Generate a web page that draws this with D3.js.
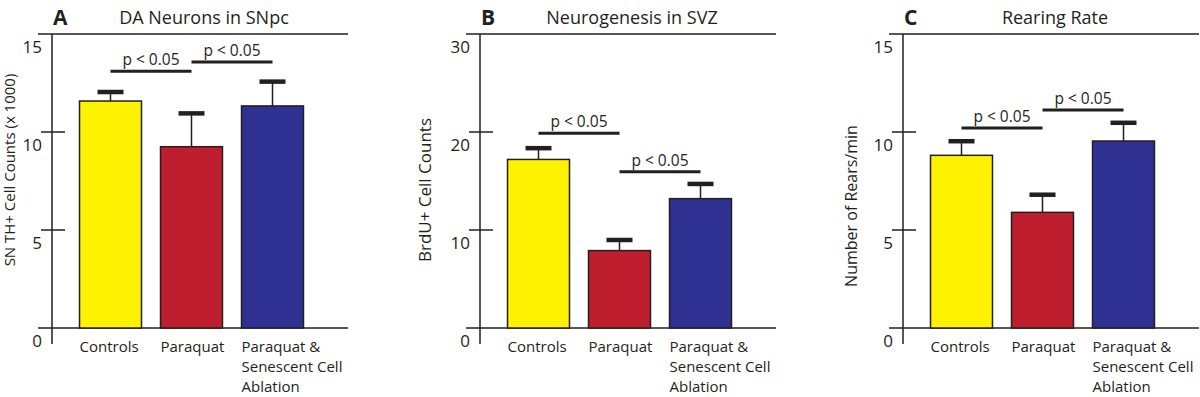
<!DOCTYPE html>
<html>
<head>
<meta charset="utf-8">
<script src="https://cdn.jsdelivr.net/npm/d3@7"></script>
<style>
  body { margin: 0; background: #fff; }
  text { font-family: "Open Sans", "Noto Sans", sans-serif; fill: #231f20; }
</style>
</head>
<body>
<div id="chart"></div>
<script>
// groups shown under every panel (one entry per text line)
const categoryLines = [["Controls"], ["Paraquat"], ["Paraquat &", "Senescent Cell", "Ablation"]];
const barColors = ["#fff200", "#be1e2d", "#2e3192"];

// A: DA neurons in SNpc
const neuronMeans = [11.58, 9.25, 11.33];
const neuronErrors = [0.46, 1.70, 1.24];
const neuronTicks = [0, 5, 10, 15];
const neuronSig = [{from: 0, to: 1, level: 13.1}, {from: 1, to: 2, level: 13.57}];

// B: neurogenesis in SVZ
const brduMeans = [17.2, 7.9, 13.2];
const brduErrors = [1.15, 1.08, 1.5];
const brduTicks = [0, 10, 20, 30];
const brduSig = [{from: 0, to: 1, level: 19.87}, {from: 1, to: 2, level: 15.95}];

// C: rearing rate
const rearingMeans = [8.81, 5.9, 9.54];
const rearingErrors = [0.72, 0.9, 0.93];
const rearingTicks = [0, 5, 10, 15];
const rearingSig = [{from: 0, to: 1, level: 10.2}, {from: 1, to: 2, level: 11.12}];

const ink = "#231f20";
const svg = d3.select("#chart")
  .append("svg")
  .attr("width", 1200)
  .attr("height", 397);

function drawPanel(p) {
  const ax = p.axisX;
  const y = d3.scaleLinear()
    .domain([0, d3.max(p.ticks)])
    .range([328, 34]);
  const x = d3.scaleBand()
    .domain(d3.range(p.means.length))
    .range([ax + 18, ax + 261])
    .paddingInner(0.235)
    .paddingOuter(0.1175);
  const g = svg.append("g");

  // frame lines: top, baseline, y axis
  g.append("line")
    .attr("x1", ax - 14).attr("x2", ax + 296)
    .attr("y1", y(d3.max(p.ticks))).attr("y2", y(d3.max(p.ticks)))
    .attr("stroke", ink).attr("stroke-width", 1.5);
  g.append("line")
    .attr("x1", ax - 14).attr("x2", ax + 296)
    .attr("y1", y(0)).attr("y2", y(0))
    .attr("stroke", ink).attr("stroke-width", 1.5);
  g.append("line")
    .attr("x1", ax).attr("x2", ax)
    .attr("y1", y(d3.max(p.ticks))).attr("y2", y(0) + 16)
    .attr("stroke", ink).attr("stroke-width", 1.5);

  // ticks (inner ones cross the axis), labels sit a bit under them
  g.selectAll("tickmark")
    .data(p.ticks.slice(1, -1))
    .enter()
    .append("line")
    .attr("x1", ax - 11).attr("x2", ax + 13)
    .attr("y1", function (d) { return y(d); })
    .attr("y2", function (d) { return y(d); })
    .attr("stroke", ink).attr("stroke-width", 1.5);
  g.selectAll("ticklabel")
    .data(p.ticks)
    .enter()
    .append("text")
    .attr("x", ax - 10)
    .attr("y", function (d) { return y(d) + 19; })
    .attr("text-anchor", "end")
    .style("font-size", "17px")
    .text(function (d) { return d; });

  // bars
  g.selectAll("bar")
    .data(p.means)
    .enter()
    .append("rect")
    .attr("x", function (d, i) { return x(i); })
    .attr("y", function (d) { return y(d); })
    .attr("width", x.bandwidth())
    .attr("height", function (d) { return y(0) - y(d); })
    .attr("fill", function (d, i) { return barColors[i]; })
    .attr("stroke", ink).attr("stroke-width", 1.5);

  // error bars
  const cx = function (i) { return x(i) + x.bandwidth() / 2; };
  g.selectAll("stem")
    .data(p.means)
    .enter()
    .append("line")
    .attr("x1", function (d, i) { return cx(i); })
    .attr("x2", function (d, i) { return cx(i); })
    .attr("y1", function (d) { return y(d); })
    .attr("y2", function (d, i) { return y(d + p.errors[i]); })
    .attr("stroke", ink).attr("stroke-width", 1.5);
  g.selectAll("cap")
    .data(p.means)
    .enter()
    .append("line")
    .attr("x1", function (d, i) { return cx(i) - 13; })
    .attr("x2", function (d, i) { return cx(i) + 13; })
    .attr("y1", function (d, i) { return y(d + p.errors[i]); })
    .attr("y2", function (d, i) { return y(d + p.errors[i]); })
    .attr("stroke", ink).attr("stroke-width", 4.5);

  // significance brackets
  g.selectAll("sigline")
    .data(p.sig)
    .enter()
    .append("line")
    .attr("x1", function (d) { return cx(d.from); })
    .attr("x2", function (d) { return cx(d.to); })
    .attr("y1", function (d) { return y(d.level); })
    .attr("y2", function (d) { return y(d.level); })
    .attr("stroke", ink).attr("stroke-width", 3);
  g.selectAll("sigtext")
    .data(p.sig)
    .enter()
    .append("text")
    .attr("x", function (d) { return (cx(d.from) + cx(d.to)) / 2; })
    .attr("y", function (d) { return y(d.level) - 6; })
    .attr("text-anchor", "middle")
    .style("font-size", "15.5px")
    .text("p < 0.05");

  // category labels
  const cat = g.selectAll("catlabel")
    .data(categoryLines)
    .enter()
    .append("text")
    .attr("x", function (d, i) { return x(i); })
    .attr("y", 352)
    .style("font-size", "15px");
  cat.selectAll("tspan")
    .data(function (d) { return d; })
    .enter()
    .append("tspan")
    .attr("x", function () { return d3.select(this.parentNode).attr("x"); })
    .attr("dy", function (d, i) { return i === 0 ? 0 : 20; })
    .text(function (d) { return d; });

  // y axis label
  g.append("text")
    .attr("transform", "translate(" + p.yLabelX + "," + p.yLabelY + ") rotate(-90)")
    .attr("text-anchor", "middle")
    .style("font-size", p.yLabelSize + "px")
    .text(p.yLabel);

  // panel letter and title
  g.append("text")
    .attr("x", ax + 1)
    .attr("y", 25)
    .style("font-size", "21px")
    .style("font-weight", "bold")
    .text(p.letter);
  g.append("text")
    .attr("x", ax + 152)
    .attr("y", 24)
    .attr("text-anchor", "middle")
    .style("font-size", "18px")
    .text(p.title);
}

drawPanel({axisX: 52, letter: "A", title: "DA Neurons in SNpc", yLabel: "SN TH+ Cell Counts (x 1000)",
  yLabelX: 15, yLabelY: 170, yLabelSize: 15, ticks: neuronTicks, means: neuronMeans, errors: neuronErrors, sig: neuronSig});
drawPanel({axisX: 480, letter: "B", title: "Neurogenesis in SVZ", yLabel: "BrdU+ Cell Counts",
  yLabelX: 431, yLabelY: 190, yLabelSize: 17, ticks: brduTicks, means: brduMeans, errors: brduErrors, sig: brduSig});
drawPanel({axisX: 903, letter: "C", title: "Rearing Rate", yLabel: "Number of Rears/min",
  yLabelX: 857, yLabelY: 206, yLabelSize: 16, ticks: rearingTicks, means: rearingMeans, errors: rearingErrors, sig: rearingSig});
</script>
</body>
</html>
